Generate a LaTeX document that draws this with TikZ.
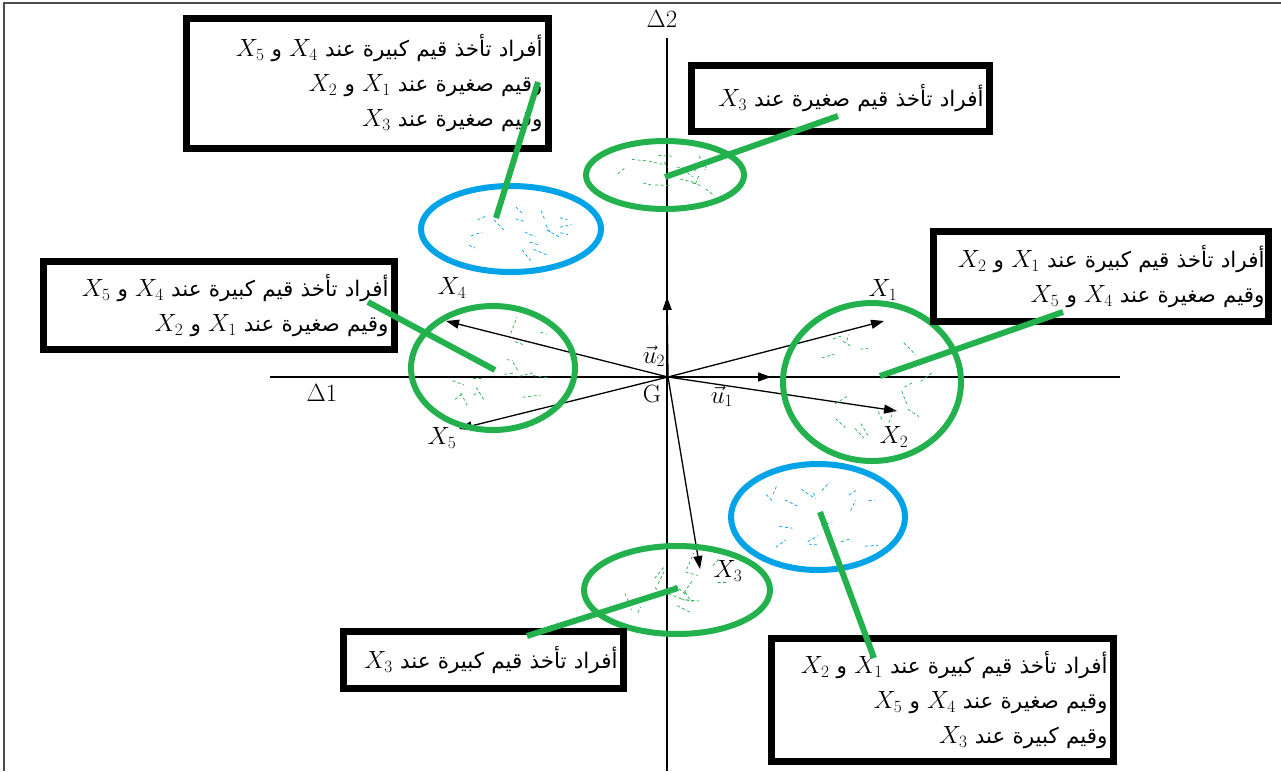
\documentclass[tikz,border=0pt]{standalone}
\usepackage{fontspec}
\usetikzlibrary{shapes.geometric,arrows.meta}
\newfontfamily\arabicfont[Script=Arabic]{DejaVu Sans}
\TeXXeTstate=1
\newcommand\artxt[1]{{\arabicfont\beginR #1\endR}}
\newcommand\xv[1]{\hbox{\fontsize{24}{30}\selectfont$X_{#1}$}}
\definecolor{pgreen}{HTML}{22B14C}
\definecolor{pblue}{HTML}{00A2E8}
\newcommand\scrib[5]{%
  \foreach \k in {1,...,16}{%
    \pgfmathsetmacro\px{#1+0.6*#3*rand}%
    \pgfmathsetmacro\py{#2+0.6*#4*rand}%
    \pgfmathsetmacro\pa{rand*70}%
    \pgfmathsetmacro\pl{6+12*rnd}%
    \draw[#5, line width=0.7pt, dash pattern=on 3pt off 2.5pt] (\px,\py) -- ++(\pa:\pl);
  }}
\begin{document}
\begin{tikzpicture}[x=1pt,y=-1pt,
  box/.style={draw=black, line width=7pt, fill=white, align=right, inner xsep=6pt, inner ysep=0pt, font=\fontsize{21.5}{35}\selectfont},
  gel/.style={ellipse, draw=pgreen, line width=6pt, inner sep=0pt},
  bel/.style={ellipse, draw=pblue, line width=6pt, inner sep=0pt},
  lead/.style={draw=pgreen, line width=6pt},
  axisline/.style={line width=1.2pt},
  vec/.style={line width=1.3pt, -{Triangle[length=13pt,width=9pt]}},
  lab/.style={font=\fontsize{25}{30}\selectfont, inner sep=0pt}]
\useasboundingbox (0,0) rectangle (1281,771);
\draw[black!70, line width=1.2pt] (4,771) -- (4,3) -- (1281,3);

% axes
\coordinate (G) at (668,377);
\coordinate (d1a) at (270,377);
\coordinate (d1b) at (1120,377);
\coordinate (d2a) at (667,38);
\coordinate (d2b) at (667,771);
\draw[axisline] (d1a) -- (d1b);
\draw[axisline] (d2a) -- (d2b);
\node[lab] (lD2) at (662,19) {$\Delta 2$};
\node[lab] (lD1) at (322,393) {$\Delta 1$};
\node[lab] (lG) at (652,394) {G};

% vectors
\coordinate (tu1) at (771,377);
\coordinate (tu2) at (667,297);
\coordinate (t1) at (884,321);
\coordinate (t2) at (897,411);
\coordinate (t3) at (700,569);
\coordinate (t4) at (446,321);
\coordinate (t5) at (459,429);
\draw[vec] (G) -- (tu1);
\draw[vec] (G) -- (tu2);
\draw[vec] (G) -- (t1);
\draw[vec] (G) -- (t2);
\draw[vec] (G) -- (t3);
\draw[vec] (G) -- (t4);
\draw[vec] (G) -- (t5);
\node[lab] (lu1) at (722,396) {$\vec{u}_1$};
\node[lab] (lu2) at (654,356) {$\vec{u}_2$};
\node[lab] (l1) at (883,290) {$X_1$};
\node[lab] (l2) at (894,437) {$X_2$};
\node[lab] (l3) at (728,571) {$X_3$};
\node[lab] (l4) at (452,288) {$X_4$};
\node[lab] (l5) at (442,438) {$X_5$};

% ellipses
\pgfmathsetseed{11}
\scrib{511}{229}{90}{43}{pblue}
\scrib{665}{175}{79}{34}{pgreen}
\scrib{493}{368}{82}{62}{pgreen}
\scrib{872}{382}{89}{79}{pgreen}
\scrib{818}{517}{87}{53}{pblue}
\scrib{677}{590}{93}{44}{pgreen}
\node[bel, minimum width=180, minimum height=86] (eA) at (511,229) {};
\node[gel, minimum width=158, minimum height=68] (eB) at (665,175) {};
\node[gel, minimum width=164, minimum height=124] (eD) at (493,368) {};
\node[gel, minimum width=178, minimum height=158] (eC) at (872,382) {};
\node[bel, minimum width=174, minimum height=106] (eF) at (818,517) {};
\node[gel, minimum width=186, minimum height=88] (eE) at (677,590) {};

% boxes
\node[box, minimum width=362, minimum height=130, text width=350] (bA) at (367.5,83.5)
  {\artxt{أفراد تأخذ قيم كبيرة عند \xv{4} و \xv{5}}\\
   \artxt{وقيم صغيرة عند \xv{1} و \xv{2}}\\
   \artxt{وقيم صغيرة عند \xv{3}}};
\node[box, minimum width=298, minimum height=66, text width=286] (bB) at (840.5,98.5)
  {\artxt{أفراد تأخذ قيم صغيرة عند \xv{3}}};
\node[box, minimum width=335, minimum height=90, text width=327, inner xsep=4pt] (bC) at (1101,276.5)
  {\artxt{أفراد تأخذ قيم كبيرة عند \xv{1} و \xv{2}}\\
   \artxt{وقيم صغيرة عند \xv{4} و \xv{5}}};
\node[box, minimum width=351, minimum height=88, text width=339] (bD) at (219,305.5)
  {\artxt{أفراد تأخذ قيم كبيرة عند \xv{4} و \xv{5}}\\
   \artxt{وقيم صغيرة عند \xv{1} و \xv{2}}};
\node[box, minimum width=280, minimum height=57, text width=268] (bE) at (483.5,660)
  {\artxt{أفراد تأخذ قيم كبيرة عند \xv{3}}};
\node[box, minimum width=342, minimum height=123, text width=330] (bF) at (942.5,700)
  {\artxt{أفراد تأخذ قيم كبيرة عند \xv{1} و \xv{2}}\\
   \artxt{وقيم صغيرة عند \xv{4} و \xv{5}}\\
   \artxt{وقيم كبيرة عند \xv{3}}};

% leaders
\coordinate (sA) at (538,82);  \coordinate (fA) at (496,218);
\coordinate (sB) at (838,116); \coordinate (fB) at (665,177);
\coordinate (sC) at (1063,312);\coordinate (fC) at (880,376);
\coordinate (sD) at (368,302); \coordinate (fD) at (495,370);
\coordinate (sE) at (527,636); \coordinate (fE) at (678,588);
\coordinate (sF) at (874,658); \coordinate (fF) at (820,512);
\draw[lead] (sA) -- (fA);
\draw[lead] (sB) -- (fB);
\draw[lead] (sC) -- (fC);
\draw[lead] (sD) -- (fD);
\draw[lead] (sE) -- (fE);
\draw[lead] (sF) -- (fF);
\end{tikzpicture}
\end{document}
